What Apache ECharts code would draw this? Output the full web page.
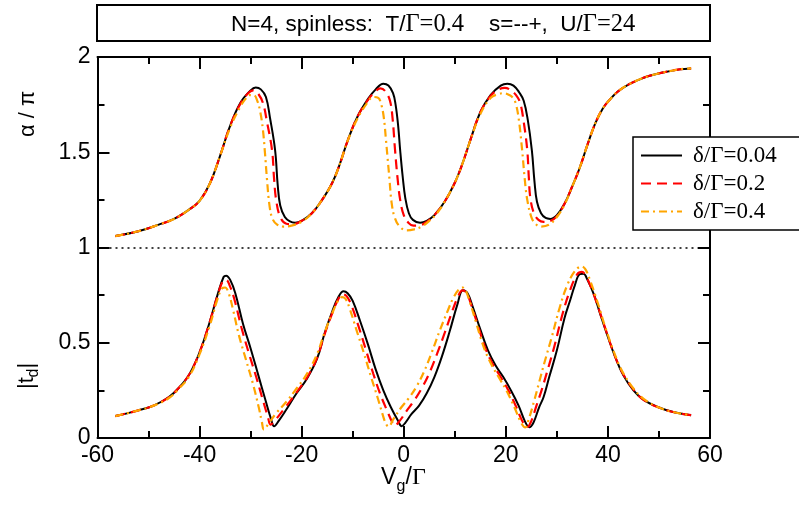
<!DOCTYPE html>
<html><head><meta charset="utf-8">
<script src="https://cdn.jsdelivr.net/npm/echarts@6/dist/echarts.min.js"></script>
<style>html,body{margin:0;padding:0;background:#fff}#c{width:799px;height:508px}</style>
</head><body><div id="c"></div>
<script>
// ---------- data ----------
const legendNames = ['δ/Γ=0.04', 'δ/Γ=0.2', 'δ/Γ=0.4'];
const xRange = [-60, 60];
const yRange = [0, 2];

// alpha/pi (upper family)
const alpha004 = [[-56.5,1.06],[-52,1.085],[-48,1.12],[-45,1.15],[-42,1.2],[-40,1.245],[-38,1.335],[-36,1.48],[-34,1.64],[-32,1.76],[-30,1.825],[-29,1.84],[-28,1.83],[-27,1.79],[-26.2,1.68],[-25.2,1.51],[-24.7,1.33],[-24.2,1.22],[-23.3,1.16],[-22.3,1.137],[-21.3,1.13],[-20,1.14],[-18,1.18],[-16,1.25],[-14,1.34],[-12.5,1.44],[-11,1.56],[-9,1.69],[-7,1.78],[-5.5,1.83],[-4,1.86],[-3,1.85],[-2.1,1.81],[-1.6,1.75],[-1.1,1.64],[-0.7,1.51],[-0.2,1.37],[0.3,1.26],[1,1.18],[1.8,1.145],[3.2,1.13],[4.5,1.14],[6,1.17],[8,1.24],[10,1.34],[11.5,1.44],[13,1.56],[15,1.71],[17,1.8],[19,1.85],[20.3,1.86],[21.5,1.85],[22.6,1.815],[23.5,1.77],[24.3,1.67],[25.1,1.51],[25.6,1.35],[26.1,1.24],[26.9,1.18],[27.8,1.155],[28.7,1.15],[30,1.17],[31.5,1.23],[33,1.32],[34.5,1.42],[36,1.54],[37.5,1.65],[39,1.73],[40.5,1.78],[42,1.82],[44,1.855],[46,1.88],[48,1.9],[51,1.92],[54,1.935],[56.3,1.94]];
const alpha02 = [[-56.5,1.06],[-52,1.085],[-48,1.12],[-45,1.15],[-42,1.2],[-40,1.245],[-38,1.335],[-36,1.48],[-34,1.64],[-32,1.755],[-30.5,1.81],[-29.5,1.825],[-28.6,1.81],[-27.6,1.76],[-26.8,1.66],[-25.8,1.51],[-25.4,1.36],[-25,1.25],[-24.2,1.16],[-23,1.125],[-21.8,1.122],[-20,1.14],[-18,1.18],[-16,1.25],[-14,1.34],[-12.5,1.44],[-11,1.56],[-9,1.69],[-7,1.775],[-5.7,1.815],[-4.6,1.835],[-3.6,1.82],[-2.7,1.77],[-2.2,1.68],[-1.7,1.51],[-1.2,1.36],[-0.7,1.25],[0,1.17],[0.9,1.13],[1.9,1.115],[3.2,1.117],[4.5,1.135],[6,1.17],[8,1.24],[10,1.34],[11.5,1.44],[13,1.56],[15,1.71],[17,1.795],[18.6,1.83],[19.8,1.838],[21,1.825],[22,1.8],[22.8,1.76],[23.5,1.66],[24.2,1.51],[24.5,1.37],[24.8,1.26],[25.5,1.18],[26.4,1.145],[27.4,1.135],[28.8,1.14],[30,1.165],[31.5,1.23],[33,1.32],[34.5,1.42],[36,1.54],[37.5,1.65],[39,1.73],[40.5,1.78],[42,1.82],[44,1.855],[46,1.88],[48,1.9],[51,1.92],[54,1.935],[56.3,1.94]];
const alpha04 = [[-56.5,1.06],[-52,1.085],[-48,1.12],[-45,1.15],[-42,1.2],[-40,1.245],[-38,1.335],[-36,1.48],[-34,1.63],[-32,1.74],[-31,1.78],[-30.2,1.8],[-29.4,1.8],[-28.7,1.77],[-28.1,1.71],[-27.6,1.62],[-27.2,1.5],[-26.8,1.36],[-26.3,1.22],[-25.7,1.15],[-24.8,1.12],[-23.6,1.11],[-22,1.115],[-20,1.135],[-18,1.18],[-16,1.25],[-14,1.34],[-12.5,1.44],[-11,1.56],[-9,1.68],[-7,1.765],[-6,1.79],[-5,1.785],[-4.4,1.75],[-3.9,1.68],[-3.5,1.57],[-3.2,1.48],[-2.8,1.36],[-2.4,1.24],[-1.8,1.16],[-0.8,1.11],[0.6,1.09],[2,1.095],[3.5,1.11],[5,1.14],[6.5,1.18],[8,1.24],[10,1.34],[11.5,1.44],[13,1.56],[15,1.7],[17,1.785],[18.5,1.805],[19.6,1.81],[20.7,1.8],[21.4,1.785],[21.9,1.76],[22.5,1.68],[23.2,1.51],[23.7,1.36],[24.2,1.25],[25,1.16],[25.8,1.125],[26.8,1.11],[28.5,1.12],[30,1.16],[31.5,1.225],[33,1.32],[34.5,1.42],[36,1.54],[37.5,1.65],[39,1.73],[40.5,1.78],[42,1.82],[44,1.855],[46,1.88],[48,1.9],[51,1.92],[54,1.935],[56.3,1.94]];

// |t_d| (lower family)
const td004 = [[-56.5,0.115],[-52,0.145],[-49,0.17],[-46,0.215],[-44,0.265],[-42,0.335],[-40,0.45],[-38,0.61],[-36.5,0.75],[-35.3,0.845],[-34.8,0.852],[-34,0.83],[-33,0.76],[-31.5,0.6],[-30,0.47],[-28.5,0.33],[-27,0.19],[-26,0.1],[-25.4,0.062],[-24.5,0.09],[-23,0.15],[-21,0.235],[-19,0.31],[-17,0.415],[-15.5,0.55],[-14,0.665],[-12.8,0.74],[-11.8,0.77],[-11,0.76],[-10,0.72],[-8.5,0.61],[-7,0.49],[-5.5,0.36],[-4,0.25],[-2.5,0.16],[-1.2,0.095],[-0.4,0.062],[0.3,0.08],[1.5,0.125],[3,0.17],[4.5,0.235],[6,0.32],[7.5,0.43],[9,0.56],[10.5,0.7],[11.6,0.776],[12.5,0.76],[13.5,0.69],[15,0.57],[16.5,0.46],[18,0.38],[19.5,0.32],[21,0.25],[22.5,0.17],[23.7,0.09],[24.6,0.056],[25.4,0.08],[26.5,0.16],[27.4,0.215],[28.5,0.32],[30,0.46],[31.5,0.63],[32.6,0.723],[33.5,0.8],[34.5,0.86],[35.2,0.862],[36,0.83],[37.3,0.75],[38.5,0.65],[40,0.53],[41.5,0.42],[43,0.33],[45,0.25],[47,0.2],[50,0.16],[53,0.135],[56.3,0.12]];
const td02 = [[-56.5,0.115],[-52,0.145],[-49,0.17],[-46,0.215],[-44,0.265],[-42,0.335],[-40,0.45],[-38,0.61],[-36.5,0.745],[-35.4,0.825],[-34.8,0.83],[-34.1,0.8],[-33.2,0.73],[-31.8,0.58],[-30.4,0.45],[-28.9,0.32],[-27.5,0.19],[-26.6,0.11],[-26.1,0.07],[-25.3,0.09],[-23.5,0.15],[-21,0.24],[-19,0.315],[-17,0.42],[-15.5,0.545],[-14,0.655],[-12.9,0.725],[-12,0.755],[-11.2,0.745],[-10.3,0.7],[-8.9,0.59],[-7.5,0.47],[-6,0.34],[-4.6,0.23],[-3.2,0.14],[-2.3,0.085],[-1.8,0.065],[-0.8,0.09],[0.5,0.14],[2,0.195],[3.5,0.26],[5,0.34],[6.5,0.44],[8,0.55],[9.3,0.65],[10.6,0.74],[11.5,0.775],[12.3,0.762],[13.2,0.7],[14.6,0.585],[16,0.47],[17.5,0.385],[19,0.32],[20.5,0.25],[22,0.165],[23.3,0.085],[24.2,0.058],[25,0.09],[26,0.17],[27,0.25],[28,0.34],[29.5,0.48],[31,0.64],[32.5,0.77],[34,0.86],[34.9,0.872],[35.7,0.85],[37,0.77],[38.3,0.67],[39.8,0.55],[41.3,0.435],[42.9,0.34],[45,0.255],[47,0.2],[50,0.16],[53,0.135],[56.3,0.12]];
const td04 = [[-56.5,0.115],[-52,0.145],[-49,0.17],[-46,0.21],[-44,0.26],[-42,0.325],[-40,0.44],[-38,0.59],[-36.6,0.72],[-35.6,0.785],[-35,0.79],[-34.3,0.76],[-33.5,0.68],[-32.3,0.54],[-30.9,0.41],[-29.5,0.28],[-28.4,0.16],[-27.8,0.085],[-27.4,0.045],[-26.5,0.075],[-25,0.13],[-23,0.19],[-21,0.26],[-19,0.335],[-17,0.44],[-15.5,0.555],[-14,0.655],[-12.9,0.72],[-12.1,0.74],[-11.4,0.73],[-10.6,0.68],[-9.3,0.57],[-7.8,0.445],[-6.4,0.32],[-5.1,0.21],[-4.1,0.12],[-3.5,0.075],[-3,0.06],[-2,0.1],[-0.5,0.16],[1,0.21],[2.5,0.27],[4,0.35],[5.5,0.45],[7,0.56],[8.5,0.66],[9.8,0.74],[11,0.785],[11.6,0.79],[12.2,0.77],[13,0.71],[14.3,0.595],[15.7,0.475],[17.2,0.385],[18.7,0.315],[20.2,0.245],[21.7,0.16],[23,0.08],[23.8,0.055],[24.5,0.1],[25.5,0.19],[26.5,0.29],[27.5,0.39],[29,0.53],[30.5,0.68],[32,0.8],[33.5,0.875],[34.8,0.9],[35.6,0.885],[36.6,0.82],[38,0.71],[39.5,0.58],[41.2,0.45],[42.8,0.35],[45,0.26],[47,0.205],[50,0.16],[53,0.135],[56.3,0.12]];

// ---------- chart ----------
const colors = ['#000000', '#ff0000', '#ffa500'];
const dashes = ['solid', [10, 6], [8, 4, 2, 4]];
const widths = [2, 2.2, 2.2];
const alphaSets = [alpha004, alpha02, alpha04];
const tdSets = [td004, td02, td04];

const SANS = 'Liberation Sans, Arial, Helvetica, sans-serif';
const SERIF = 'Liberation Serif, Times New Roman, serif';

const series = [];
[alphaSets, tdSets].forEach(function (sets, fam) {
  sets.forEach(function (d, i) {
    const s = {
      name: legendNames[i], type: 'line', data: d, xAxisIndex: 0, yAxisIndex: 0,
      symbol: 'none', showSymbol: false, smooth: 0.4,
      lineStyle: { color: colors[i], width: widths[i], type: dashes[i] },
      itemStyle: { color: colors[i] }, z: 3 + i, animation: false
    };
    if (fam === 0 && i === 0) {
      s.markLine = {
        silent: true, symbol: ['none', 'none'], label: { show: false }, animation: false,
        lineStyle: { color: '#000', width: 1.5, type: [2, 4] },
        data: [{ yAxis: 1 }]
      };
    }
    series.push(s);
  });
});

function xAx(pos, labels) {
  return {
    type: 'value', position: pos, min: xRange[0], max: xRange[1], interval: 20,
    axisLine: { show: true, onZero: false, lineStyle: { color: '#000', width: 2 } },
    axisTick: { show: true, inside: true, length: 12, lineStyle: { color: '#000', width: 2 } },
    minorTick: { show: true, splitNumber: 2, length: 7, lineStyle: { color: '#000', width: 2 } },
    splitLine: { show: false }, minorSplitLine: { show: false },
    axisLabel: { show: labels, margin: 6, color: '#000', fontSize: 23, fontFamily: SANS }
  };
}
function yAx(pos, labels) {
  return {
    type: 'value', position: pos, min: yRange[0], max: yRange[1], interval: 0.5,
    axisLine: { show: true, onZero: false, lineStyle: { color: '#000', width: 2 } },
    axisTick: { show: true, inside: true, length: 12, lineStyle: { color: '#000', width: 2 } },
    minorTick: { show: true, splitNumber: 2, length: 7, lineStyle: { color: '#000', width: 2 } },
    splitLine: { show: false }, minorSplitLine: { show: false },
    axisLabel: { show: labels, margin: 7, color: '#000', fontSize: 23, fontFamily: SANS }
  };
}

const chart = echarts.init(document.getElementById('c'), null, { renderer: 'canvas' });
chart.setOption({
  animation: false,
  backgroundColor: '#fff',
  grid: { left: 97.5, right: 89, top: 57, bottom: 70, containLabel: false },
  xAxis: [xAx('bottom', true), xAx('top', false)],
  yAxis: [yAx('left', true), yAx('right', false)],
  legend: {
    data: legendNames, orient: 'vertical', left: 633, top: 137,
    itemWidth: 41, itemHeight: 14, itemGap: 5,
    padding: [7, 60, 7, 7],
    backgroundColor: '#fff', borderColor: '#000', borderWidth: 1.5, borderRadius: 0,
    selectedMode: false,
    itemStyle: { opacity: 0 },
    textStyle: { fontFamily: SERIF, fontSize: 23, color: '#000', lineHeight: 22, padding: [0, 0, 0, 6] }
  },
  series: series,
  graphic: [
    { type: 'rect', shape: { x: 97, y: 5, width: 613, height: 36 }, style: { fill: '#fff', stroke: '#000', lineWidth: 2 }, z: 10 },
    { type: 'text', x: 231, y: 25, z: 11, style: {
        text: '{s|N=4, spinless:  T/}{g|Γ=0.4}{s|    s=--+,  U/}{g|Γ=24}',
        verticalAlign: 'middle', align: 'left',
        rich: { s: { fontFamily: SANS, fontSize: 22.5, fill: '#000' }, g: { fontFamily: SERIF, fontSize: 24.5, fill: '#000' } }
      } },
    { type: 'text', x: 28, y: 114, rotation: Math.PI / 2, z: 11, style: {
        text: 'α / π', font: '22px ' + SANS, fill: '#000', align: 'center', verticalAlign: 'middle' } },
    { type: 'group', x: 27, y: 376, rotation: Math.PI / 2, z: 11, children: [
        { type: 'text', x: -13, y: 0, style: { text: '|t', font: '22px ' + SANS, fill: '#000', align: 'left', verticalAlign: 'middle' } },
        { type: 'text', x: -1.5, y: 7, style: { text: 'd', font: '16px ' + SANS, fill: '#000', align: 'left', verticalAlign: 'middle' } },
        { type: 'text', x: 7.5, y: 0, style: { text: '|', font: '22px ' + SANS, fill: '#000', align: 'left', verticalAlign: 'middle' } }
      ] },
    { type: 'group', x: 403, y: 478, z: 11, children: [
        { type: 'text', x: -22, y: 0, style: { text: 'V', font: '23px ' + SANS, fill: '#000', align: 'left', verticalAlign: 'middle' } },
        { type: 'text', x: -6.5, y: 9, style: { text: 'g', font: '16px ' + SANS, fill: '#000', align: 'left', verticalAlign: 'middle' } },
        { type: 'text', x: 2.5, y: 0, style: { text: '/', font: '23px ' + SANS, fill: '#000', align: 'left', verticalAlign: 'middle' } },
        { type: 'text', x: 9, y: 0, style: { text: 'Γ', font: '24px ' + SERIF, fill: '#000', align: 'left', verticalAlign: 'middle' } }
      ] }
  ]
});
</script>
</body></html>
